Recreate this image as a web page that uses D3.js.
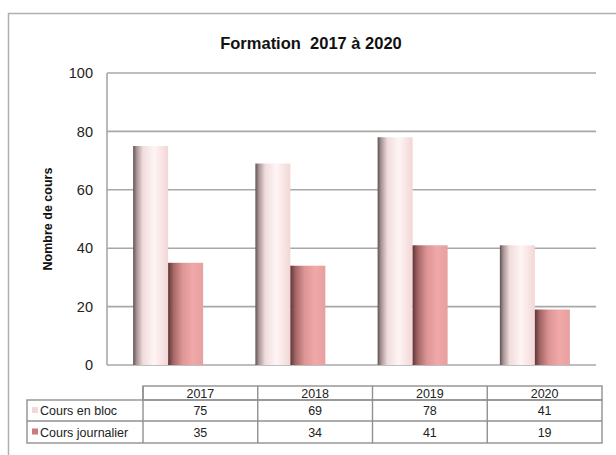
<!DOCTYPE html>
<html><head><meta charset="utf-8">
<script src="https://cdn.jsdelivr.net/npm/d3@7"></script>
<style>body{margin:0;background:#fff;} svg{display:block;font-family:"Liberation Sans",Arial,sans-serif;}</style>
</head><body>
<svg id="c" width="616" height="455"></svg>
<script>
const years = ["2017", "2018", "2019", "2020"];
const seriesNames = ["Cours en bloc", "Cours journalier"];
const blocValues = [75, 69, 78, 41];
const journalierValues = [35, 34, 41, 19];
const yTicks = [0, 20, 40, 60, 80, 100];
const title = "Formation  2017 à 2020";
const yLabel = "Nombre de cours";

(function () {
const svg = d3.select("#c");
const defs = svg.append("defs");
function grad(id, stops) {
  const g = defs.append("linearGradient").attr("id", id).attr("x1", "0").attr("x2", "1").attr("y1", "0").attr("y2", "0");
  stops.forEach(s => g.append("stop").attr("offset", s[0]).attr("stop-color", s[1]));
}
grad("gLight", [[0, "#605252"], [0.1, "#a89494"], [0.28, "#f0dcdc"], [0.6, "#fff5f5"], [1, "#f2d6d6"]]);
grad("gDark", [[0, "#603636"], [0.15, "#a46666"], [0.4, "#dc9494"], [0.7, "#f0a8a8"], [1, "#e6a0a0"]]);

// frame
svg.append("rect").attr("x", 8.5).attr("y", 13.5).attr("width", 620).attr("height", 460)
  .attr("fill", "none").attr("stroke", "#b0b0b0").attr("stroke-width", 1.5);

svg.append("text").attr("x", 311).attr("y", 49).attr("text-anchor", "middle")
  .style("white-space", "pre").attr("xml:space", "preserve")
  .attr("font-weight", "bold").attr("font-size", 16.5).attr("fill", "#111").text(title);

const pLeft = 107, pRight = 596, pTop = 73, pBottom = 365;
const x = d3.scaleBand().domain(years).range([pLeft, pRight]).paddingInner(0).paddingOuter(0);
const y = d3.scaleLinear().domain([0, 100]).range([pBottom, pTop]);
const barW = 35;

// grid
svg.append("g").selectAll("line").data(yTicks).join("line")
  .attr("x1", pLeft).attr("x2", pRight).attr("y1", d => y(d)).attr("y2", d => y(d))
  .attr("stroke", "#a8a8a8").attr("stroke-width", 1.6);
svg.append("line").attr("x1", pLeft).attr("x2", pLeft).attr("y1", pTop).attr("y2", pBottom)
  .attr("stroke", "#a8a8a8").attr("stroke-width", 1.6);

const yAxis = d3.axisLeft(y).tickValues(yTicks).tickSize(0).tickPadding(14);
const ga = svg.append("g").attr("transform", `translate(${pLeft},0)`).call(yAxis);
ga.select(".domain").remove();
ga.selectAll("text").attr("font-size", 14.5).attr("fill", "#222").attr("font-family", "Liberation Sans, Arial, sans-serif");

svg.append("text").attr("transform", `translate(52,${(pTop + pBottom) / 2}) rotate(-90)`)
  .attr("text-anchor", "middle").attr("font-weight", "bold").attr("font-size", 12.5).attr("fill", "#111").text(yLabel);

// bars
svg.append("g").selectAll("rect").data(years).join("rect")
  .attr("x", d => x(d) + x.bandwidth() / 2 - barW).attr("width", barW)
  .attr("y", (d, i) => y(blocValues[i])).attr("height", (d, i) => y(0) - y(blocValues[i]))
  .attr("fill", "url(#gLight)");
svg.append("g").selectAll("rect").data(years).join("rect")
  .attr("x", d => x(d) + x.bandwidth() / 2).attr("width", barW)
  .attr("y", (d, i) => y(journalierValues[i])).attr("height", (d, i) => y(0) - y(journalierValues[i]))
  .attr("fill", "url(#gDark)");

// data table
const tLeft = 27, tColStart = 143, tRight = 602;
const tx = d3.scaleBand().domain(years).range([tColStart, tRight]);
const rowY = [386, 400, 421, 443];
const tg = svg.append("g").attr("stroke", "#909090").attr("stroke-width", 1.4).attr("fill", "none");
tg.append("rect").attr("x", tColStart).attr("y", rowY[0]).attr("width", tRight - tColStart).attr("height", rowY[1] - rowY[0]);
tg.append("rect").attr("x", tLeft).attr("y", rowY[1]).attr("width", tRight - tLeft).attr("height", rowY[3] - rowY[1]);
tg.append("line").attr("x1", tLeft).attr("x2", tRight).attr("y1", rowY[2]).attr("y2", rowY[2]);
tg.selectAll(".v").data(years).join("line").attr("class", "v")
  .attr("x1", d => tx(d)).attr("x2", d => tx(d)).attr("y1", rowY[0]).attr("y2", rowY[3]);

const txt = svg.append("g").attr("font-size", 12.5).attr("fill", "#222");
txt.selectAll(".h").data(years).join("text").attr("class", "h")
  .attr("x", d => tx(d) + tx.bandwidth() / 2).attr("y", rowY[0] + 11.5).attr("text-anchor", "middle").text(d => d);
[blocValues, journalierValues].forEach((vals, r) => {
  const cy = (rowY[r + 1] + rowY[r + 2]) / 2 + 4.5;
  txt.selectAll(".r" + r).data(vals).join("text").attr("class", "r" + r)
    .attr("x", (d, i) => tx(years[i]) + tx.bandwidth() / 2).attr("y", cy).attr("text-anchor", "middle").text(d => d);
  txt.append("text").attr("x", 40).attr("y", cy).text(seriesNames[r]);
  svg.append("rect").attr("x", 32).attr("y", cy - 8).attr("width", 6).attr("height", 6)
    .attr("fill", r === 0 ? "#f2d8d8" : "#c87c7c");
});
})();
</script>
</body></html>
